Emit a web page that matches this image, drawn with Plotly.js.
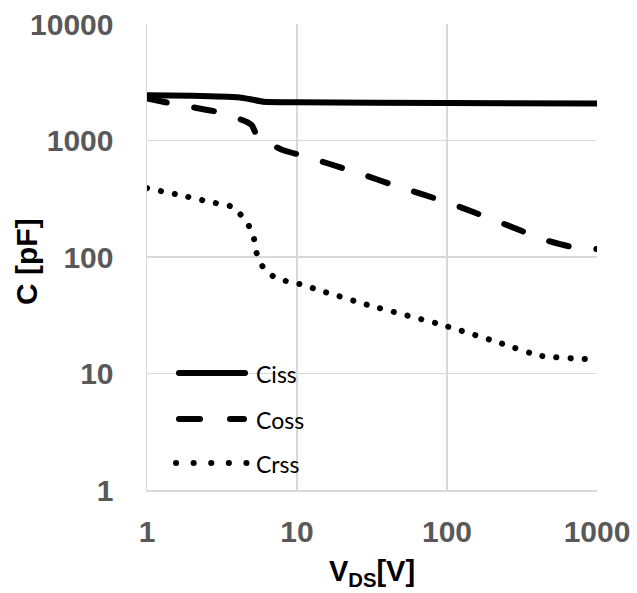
<!DOCTYPE html>
<html>
<head>
<meta charset="utf-8">
<script src="https://cdn.plot.ly/plotly-3.0.1.min.js"></script>
<style>
  html, body { margin: 0; padding: 0; background: #fff; }
  #chart { width: 637px; height: 593px; }
  /* rounded ends give Excel-like round dots and dashes */
  .scatterlayer .js-line, .shapelayer path {
    stroke-linecap: round !important;
    stroke-linejoin: round !important;
  }
</style>
</head>
<body>
<div id="chart"></div>
<script>
// Capacitance vs drain-source voltage
const vdsCiss = [1, 2, 4, 5, 6, 10, 100, 1000];
const ciss    = [2450, 2420, 2350, 2250, 2150, 2130, 2100, 2080];

const vdsCoss = [1, 1.4, 3, 4.6, 5, 5.5, 8, 11, 24, 49, 104, 220, 450, 660, 1000];
const coss    = [2300, 2100, 1750, 1450, 1350, 1065, 830, 740, 540, 396, 290, 201, 140, 123, 117];

const vdsCrss = [1, 1.84, 2.87, 3.57, 4.17, 4.78, 5.17, 5.38, 5.9, 6.96, 8.5, 10.8, 13.3, 31.4, 94, 219, 417, 830, 1000];
const crss    = [390, 330, 290, 274, 234, 185, 143, 108, 83, 68, 62, 58, 53, 38, 26, 18.5, 14.2, 13.3, 13];

const seriesNames = ['Ciss', 'Coss', 'Crss'];
const xTicks = [1, 10, 100, 1000];
const yTicks = [1, 10, 100, 1000, 10000];

const LW = 6;
const tickFont = {family: 'Liberation Sans, Arial, sans-serif', size: 30, color: '#595959', weight: 700};
const xTitleFont = {family: 'Liberation Sans, Arial, sans-serif', size: 29, color: '#000', weight: 700};
const yTitleFont = {family: 'Liberation Sans, Arial, sans-serif', size: 30, color: '#000', weight: 700};
const legFont = {family: 'Lato, sans-serif', size: 23, color: '#000'};

const traces = [
  {x: vdsCiss, y: ciss, name: seriesNames[0], mode: 'lines',
   line: {color: '#000', width: LW, shape: 'spline', smoothing: 0.5}},
  {x: vdsCoss, y: coss, name: seriesNames[1], mode: 'lines',
   line: {color: '#000', width: LW, dash: '20px,28px', shape: 'spline', smoothing: 0.5}},
  {x: vdsCrss, y: crss, name: seriesNames[2], mode: 'lines',
   line: {color: '#000', width: LW, dash: '0.1px,14px', shape: 'spline', smoothing: 0.5}}
];

// legend keys drawn in paper coordinates inside the plot area
const PX0 = 147, PW = 450, PY1 = 490, PH = 466;
const px = v => (v - PX0) / PW;
const py = v => (PY1 - v) / PH;
const legRows = [373, 419, 463];

const shapes = [
  {type: 'line', xref: 'paper', yref: 'paper', x0: px(179), x1: px(245), y0: py(legRows[0]), y1: py(legRows[0]),
   line: {color: '#000', width: LW}},
  {type: 'line', xref: 'paper', yref: 'paper', x0: px(179), x1: px(200), y0: py(legRows[1]), y1: py(legRows[1]),
   line: {color: '#000', width: LW}},
  {type: 'line', xref: 'paper', yref: 'paper', x0: px(230), x1: px(244), y0: py(legRows[1]), y1: py(legRows[1]),
   line: {color: '#000', width: LW}},
  {type: 'line', xref: 'paper', yref: 'paper', x0: px(176), x1: px(246.5), y0: py(legRows[2]), y1: py(legRows[2]),
   line: {color: '#000', width: LW, dash: '0.1px,17.5px'}}
];

const annotations = seriesNames.map((n, i) => ({
  text: n, xref: 'paper', yref: 'paper', x: px(254), y: py(legRows[i] + 1),
  xanchor: 'left', yanchor: 'middle', showarrow: false, font: legFont
}));
annotations.push({
  text: 'C [pF]', xref: 'paper', yref: 'paper', x: px(26), y: py(262),
  xanchor: 'center', yanchor: 'middle', textangle: -90, showarrow: false, font: yTitleFont
});

const layout = {
  width: 637, height: 593,
  margin: {l: 147, r: 40, t: 24, b: 103},
  paper_bgcolor: '#fff', plot_bgcolor: '#fff',
  showlegend: false,
  xaxis: {
    type: 'log', range: [0, 3], tickvals: xTicks, ticktext: xTicks.map(String),
    showgrid: true, gridcolor: '#d9d9d9', gridwidth: 1.5,
    showline: true, linecolor: '#d9d9d9', linewidth: 1.5,
    ticks: '', ticklabelstandoff: 14, tickfont: tickFont, zeroline: false,
    title: {text: 'V<sub>DS</sub>[V]', font: xTitleFont, standoff: 14}
  },
  yaxis: {
    type: 'log', range: [0, 4], tickvals: yTicks, ticktext: yTicks.map(String),
    showgrid: true, gridcolor: '#d9d9d9', gridwidth: 1.5,
    showline: true, linecolor: '#d9d9d9', linewidth: 1.5,
    ticks: '', ticklabelstandoff: 26, tickfont: tickFont, zeroline: false
  },
  shapes: shapes,
  annotations: annotations
};

Plotly.newPlot('chart', traces, layout, {staticPlot: true, displayModeBar: false});
</script>
</body>
</html>
